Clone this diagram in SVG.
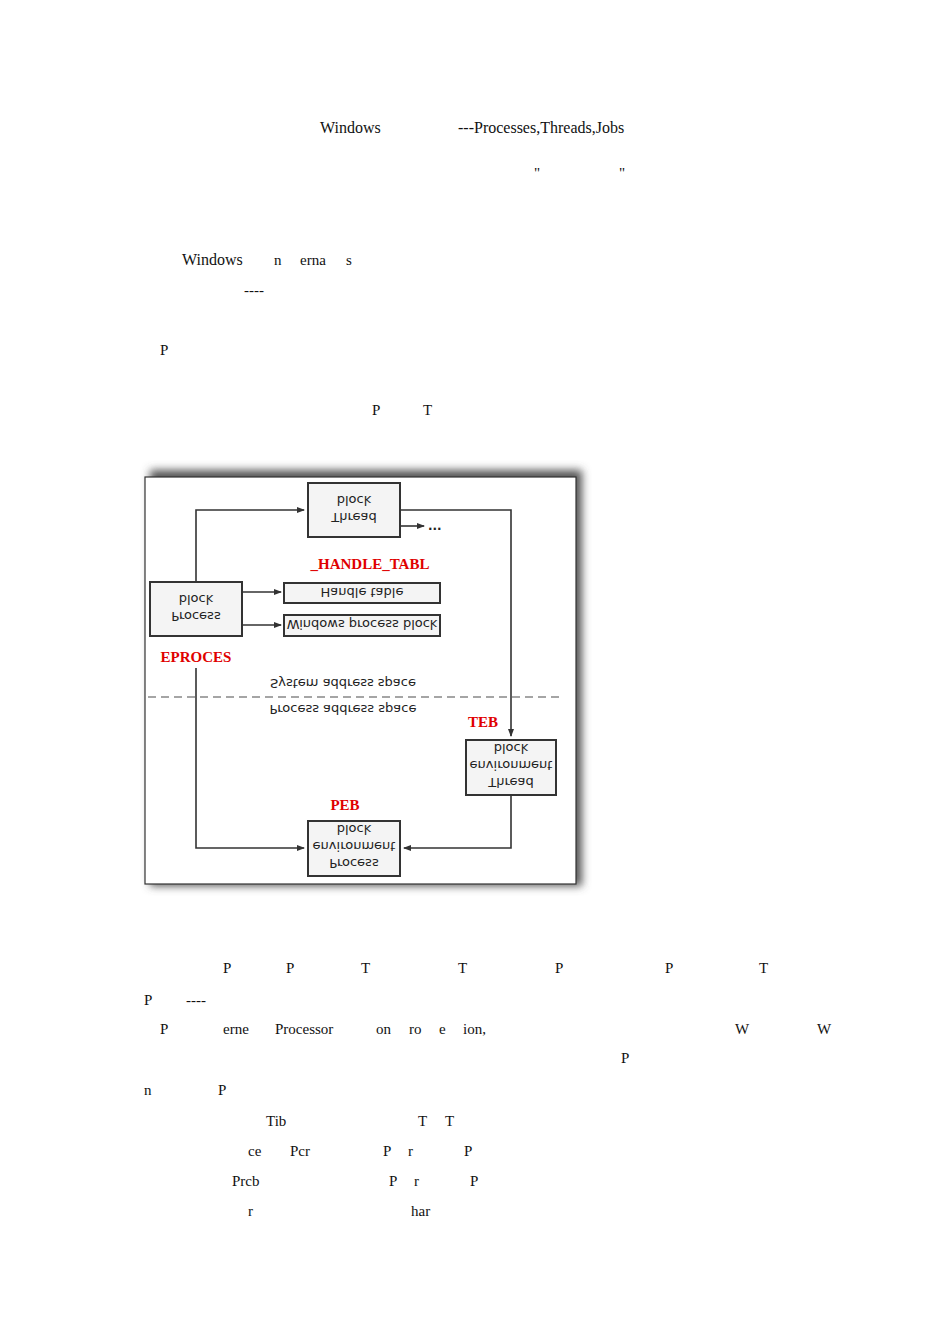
<svg xmlns="http://www.w3.org/2000/svg" width="950" height="1344" viewBox="0 0 950 1344">
<defs>
<style>
.pg{font-family:"Liberation Serif",serif;font-size:15px;fill:#111}
.bx{fill:#f4f4f4;stroke:#333;stroke-width:2}
.ft{font-family:"DejaVu Sans",sans-serif;font-size:13px;fill:#222;text-anchor:middle}
.rd{font-family:"Liberation Serif",serif;font-size:15px;font-weight:bold;fill:#e00000;text-anchor:middle}
.ln{fill:none;stroke:#333;stroke-width:1.6}
</style>
<marker id="ah" markerWidth="8" markerHeight="8" refX="7" refY="4" orient="auto" markerUnits="userSpaceOnUse"><path d="M0,1 L8,4 L0,7 z" fill="#333"/></marker>
<filter id="sh" x="-5%" y="-5%" width="112%" height="112%"><feGaussianBlur stdDeviation="4"/></filter>
</defs>
<rect width="950" height="1344" fill="#fff"/>
<g id="page-text" class="pg">
<text x="320" y="133" font-size="16">Windows</text><text x="458" y="133" font-size="16">---Processes,Threads,Jobs</text>
<text x="534" y="178">"</text><text x="619" y="178">"</text>
<text x="182" y="265" font-size="16">Windows</text><text x="274" y="265">n</text><text x="300" y="265">erna</text><text x="346" y="265">s</text>
<text x="244" y="295">----</text>
<text x="160" y="355">P</text>
<text x="372" y="415">P</text><text x="423" y="415">T</text>
<text x="223" y="973">P</text><text x="286" y="973">P</text><text x="361" y="973">T</text><text x="458" y="973">T</text><text x="555" y="973">P</text><text x="665" y="973">P</text><text x="759" y="973">T</text>
<text x="144" y="1005">P</text><text x="186" y="1005">----</text>
<text x="160" y="1034">P</text><text x="223" y="1034">erne</text><text x="275" y="1034">Processor</text><text x="376" y="1034">on</text><text x="409" y="1034">ro</text><text x="439" y="1034">e</text><text x="463" y="1034">ion,</text><text x="735" y="1034">W</text><text x="817" y="1034">W</text>
<text x="621" y="1063">P</text>
<text x="144" y="1095">n</text><text x="218" y="1095">P</text>
<text x="266" y="1126">Tib</text><text x="418" y="1126">T</text><text x="445" y="1126">T</text>
<text x="248" y="1156">ce</text><text x="290" y="1156">Pcr</text><text x="383" y="1156">P</text><text x="408" y="1156">r</text><text x="464" y="1156">P</text>
<text x="232" y="1186">Prcb</text><text x="389" y="1186">P</text><text x="414" y="1186">r</text><text x="470" y="1186">P</text>
<text x="248" y="1216">r</text><text x="411" y="1216">har</text>
</g>
<rect x="150" y="470" width="432" height="416" fill="#555" filter="url(#sh)"/>
<rect x="145" y="477" width="431" height="407" fill="#fff" stroke="#333" stroke-width="1.2"/>
<g id="connectors">
<path class="ln" d="M196,581 V510 H304" marker-end="url(#ah)"/>
<path class="ln" d="M400,510 H511 V736" marker-end="url(#ah)"/>
<path class="ln" d="M400,526 H424" marker-end="url(#ah)"/>
<path class="ln" d="M242,592 H281" marker-end="url(#ah)"/>
<path class="ln" d="M242,625 H281" marker-end="url(#ah)"/>
<path class="ln" d="M196,668 V848 H304" marker-end="url(#ah)"/>
<path class="ln" d="M511,795 V848 H404" marker-end="url(#ah)"/>
<line x1="148" y1="697" x2="562" y2="697" stroke="#888" stroke-width="1.6" stroke-dasharray="8,5"/>
</g>
<text x="428" y="530" font-family="DejaVu Sans,sans-serif" font-size="12" font-weight="bold" fill="#222">...</text>
<g id="thread-block"><rect class="bx" x="308" y="483" width="92" height="54"/>
<text class="ft" transform="translate(354,496) scale(1,-1)">block</text><text class="ft" transform="translate(354,513) scale(1,-1)">Thread</text></g>
<g id="process-block"><rect class="bx" x="150" y="582" width="92" height="54"/>
<text class="ft" transform="translate(196,595) scale(1,-1)">block</text><text class="ft" transform="translate(196,612) scale(1,-1)">Process</text></g>
<g id="handle-table"><rect class="bx" x="284" y="583" width="156" height="20"/>
<text class="ft" transform="translate(362,588) scale(1,-1)">Handle table</text></g>
<g id="windows-process-block"><rect class="bx" x="284" y="615" width="156" height="21"/>
<text class="ft" transform="translate(362,620) scale(1,-1)">Windows process block</text></g>
<g id="teb"><rect class="bx" x="466" y="740" width="90" height="55"/>
<text class="ft" transform="translate(511,744) scale(1,-1)">block</text><text class="ft" transform="translate(511,761) scale(1,-1)">environment</text><text class="ft" transform="translate(511,778) scale(1,-1)">Thread</text></g>
<g id="peb"><rect class="bx" x="308" y="821" width="92" height="55"/>
<text class="ft" transform="translate(354,825) scale(1,-1)">block</text><text class="ft" transform="translate(354,842) scale(1,-1)">environment</text><text class="ft" transform="translate(354,859) scale(1,-1)">Process</text></g>
<g id="labels">
<text class="ft" transform="translate(343,679) scale(1,-1)">System address space</text>
<text class="ft" transform="translate(343,705) scale(1,-1)">Process address space</text>
<text class="rd" x="370" y="569">_HANDLE_TABL</text>
<text class="rd" x="196" y="662">EPROCES</text>
<text class="rd" x="483" y="727">TEB</text>
<text class="rd" x="345" y="810">PEB</text>
</g>
</svg>
